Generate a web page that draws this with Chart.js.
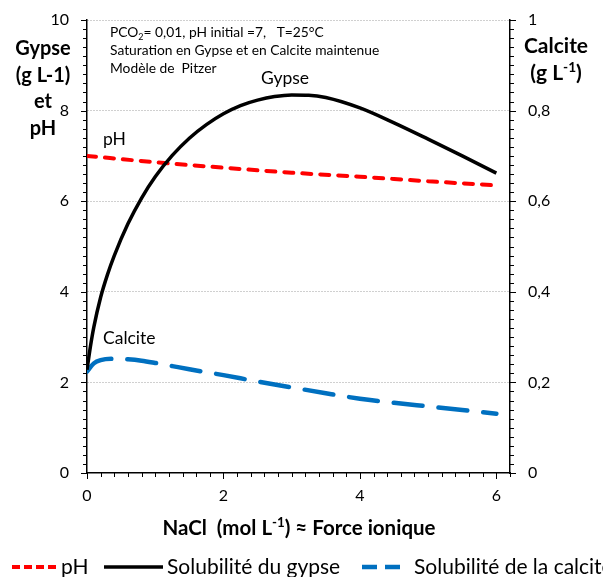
<!DOCTYPE html>
<html>
<head>
<meta charset="utf-8">
<script src="https://cdn.jsdelivr.net/npm/chart.js@4.4.1/dist/chart.umd.min.js"></script>
<style>
    html, body { margin: 0; padding: 0; background: #fff; overflow: hidden; }
</style>
</head>
<body>
<canvas id="chart" width="603" height="577"></canvas>
<script>
// Data (NaCl in mol/L)
const phX = [0, 1, 2, 3, 4, 5, 6];
const phY = [7.0, 6.86, 6.74, 6.63, 6.54, 6.44, 6.35];

const gypseX = [0, 0.05, 0.1, 0.2, 0.3, 0.4, 0.6, 0.8, 1.0, 1.25, 1.5, 1.75, 2.0, 2.25, 2.5, 2.75, 3.0, 3.25, 3.5, 4.0, 4.5, 5.0, 5.5, 6.0];
const gypseY = [2.28, 2.79, 3.22, 3.88, 4.38, 4.8, 5.5, 6.07, 6.54, 7.01, 7.39, 7.69, 7.93, 8.11, 8.23, 8.31, 8.345, 8.34, 8.29, 8.06, 7.73, 7.37, 7.0, 6.62];

const calciteX = [0, 0.1, 0.2, 0.4, 0.6, 0.8, 1.0, 1.25, 1.5, 2.0, 2.5, 3.0, 3.5, 4.0, 4.5, 5.0, 5.5, 6.0];
const calciteY = [0.224, 0.242, 0.249, 0.252, 0.251, 0.248, 0.243, 0.236, 0.229, 0.216, 0.202, 0.189, 0.176, 0.164, 0.155, 0.147, 0.139, 0.131];

// Labelled ticks (the rest are minor ticks)
const xLabels = [0, 2, 4, 6];
const yLabels = [0, 2, 4, 6, 8, 10];
const y1Labels = [0, 0.2, 0.4, 0.6, 0.8, 1];

const FONT = 'Lato';

function toXY(xs, ys) {
    return xs.map((x, i) => ({ x: x, y: ys[i] }));
}

function findTick(v, list) {
    return list.find(t => Math.abs(t - v) < 1e-6);
}

function frNum(v) {
    return String(v).replace('.', ',');
}

// text with sub/superscript pieces
function rich(c, parts, x, y, weight, size, align) {
    const fontOf = lvl => `${weight} ${lvl ? size * 0.65 : size}px ${FONT}`;
    let total = 0;
    parts.forEach(([t, l]) => { c.font = fontOf(l); total += c.measureText(t).width; });
    let cx = align === 'center' ? x - total / 2 : x;
    c.textAlign = 'left';
    parts.forEach(([t, l]) => {
        c.font = fontOf(l);
        const dy = l > 0 ? -size * 0.38 : (l < 0 ? size * 0.2 : 0);
        c.fillText(t, cx, y + dy);
        cx += c.measureText(t).width;
    });
}

function seg(c, x1, y1, x2, y2) {
    c.beginPath();
    c.moveTo(x1, y1);
    c.lineTo(x2, y2);
    c.stroke();
}

// fixed axis boxes: keep Chart.js from adding label padding above the plot
function fixBox(width) {
    return s => {
        s.width = width;
        s.paddingTop = 0;
        s.paddingBottom = 0;
    };
}

// legend slots: sample line start/end and text start
const legendSlots = [
    { x0: 12, x1: 57, tx: 61 },
    { x0: 104, x1: 163, tx: 167 },
    { x0: 362, x1: 402, tx: 414 }
];

// tick marks (major longer than minor), drawn from the scales' own ticks
const tickPlugin = {
    id: 'tickMarks',
    afterDraw(chart) {
        const c = chart.ctx;
        const a = chart.chartArea;
        const { x, y, y1 } = chart.scales;
        c.save();
        c.strokeStyle = '#000';
        c.lineWidth = 1;
        x.ticks.forEach(t => {
            const px = Math.round(x.getPixelForValue(t.value)) + 0.5;
            const len = findTick(t.value, xLabels) === undefined ? 4 : 6;
            seg(c, px, a.bottom, px, a.bottom + len);
        });
        y.ticks.forEach(t => {
            const py = Math.round(y.getPixelForValue(t.value)) + 0.5;
            const len = findTick(t.value, yLabels) === undefined ? 4 : 6;
            seg(c, a.left - len, py, a.left, py);
        });
        y1.ticks.forEach(t => {
            const py = Math.round(y1.getPixelForValue(t.value)) + 0.5;
            const len = findTick(t.value, y1Labels) === undefined ? 4 : 6;
            seg(c, a.right, py, a.right + len, py);
        });
        c.restore();
    }
};

const textPlugin = {
    id: 'texts',
    afterDraw(chart) {
        const c = chart.ctx;
        c.save();
        c.fillStyle = '#000';
        c.textBaseline = 'alphabetic';

        // left axis title
        c.font = `bold 20px ${FONT}`;
        c.textAlign = 'center';
        [['Gypse', 55], ['(g L-1)', 82], ['et', 108], ['pH', 135]].forEach(([t, y]) => c.fillText(t, 43, y));

        // right axis title
        c.font = `bold 21px ${FONT}`;
        c.fillText('Calcite', 556, 53);
        rich(c, [['(g L', 0], ['-1', 1], [')', 0]], 556, 80, 'bold', 21, 'center');

        // x axis title
        rich(c, [['NaCl  (mol L', 0], ['-1', 1], [') \u2248 Force ionique', 0]], 299, 535, 'bold', 20.5, 'center');

        // notes
        rich(c, [['PCO', 0], ['2', -1], ['= 0,01, pH initial =7,   T=25\u00B0C', 0]], 110, 37, 'normal', 13.8, 'left');
        c.font = `13.8px ${FONT}`;
        c.textAlign = 'left';
        c.fillText('Saturation en Gypse et en Calcite maintenue', 110, 55);
        c.fillText('Modèle de  Pitzer', 110, 73);

        // curve labels
        c.font = `17.5px ${FONT}`;
        c.fillText('Gypse', 261, 84);
        c.fillText('pH', 103, 145);
        c.fillText('Calcite', 103, 344);

        // legend
        c.font = `21px ${FONT}`;
        chart.data.datasets.forEach((ds, i) => {
            const s = legendSlots[i];
            c.strokeStyle = ds.borderColor;
            c.lineWidth = ds.borderWidth;
            c.lineCap = 'butt';
            c.setLineDash(ds.legendDash);
            seg(c, s.x0, 567, s.x1, 567);
            c.setLineDash([]);
            c.fillText(ds.label, s.tx, 574);
        });
        c.restore();
    }
};

const tickFont = { family: FONT, size: 16 };

new Chart(document.getElementById('chart'), {
    type: 'line',
    data: {
        datasets: [
            {
                label: 'pH',
                data: toXY(phX, phY),
                yAxisID: 'y',
                borderColor: '#FF0000',
                backgroundColor: '#FF0000',
                borderWidth: 4,
                borderDash: [9, 9],
                borderCapStyle: 'round',
                legendDash: [8, 4],
                order: 1
            },
            {
                label: 'Solubilité du gypse',
                data: toXY(gypseX, gypseY),
                yAxisID: 'y',
                borderColor: '#000000',
                backgroundColor: '#000000',
                borderWidth: 3.5,
                legendDash: [],
                order: 0
            },
            {
                label: 'Solubilité de la calcite',
                data: toXY(calciteX, calciteY),
                yAxisID: 'y1',
                borderColor: '#0070C0',
                backgroundColor: '#0070C0',
                borderWidth: 4.5,
                borderDash: [29, 16],
                borderCapStyle: 'round',
                legendDash: [15, 8],
                order: 2
            }
        ]
    },
    options: {
        responsive: false,
        animation: false,
        devicePixelRatio: 1,
        layout: { padding: { top: 20, left: 0, right: 0, bottom: 0 } },
        elements: {
            point: { radius: 0 },
            line: { cubicInterpolationMode: 'monotone', fill: false }
        },
        plugins: {
            tooltip: { enabled: false },
            legend: { display: false }
        },
        scales: {
            x: {
                type: 'linear',
                min: 0,
                max: 6.2,
                afterFit: s => { s.height = 104; s.paddingLeft = 0; s.paddingRight = 0; },
                ticks: {
                    stepSize: 0.2,
                    autoSkip: false,
                    maxRotation: 0,
                    padding: 13,
                    color: '#000',
                    font: tickFont,
                    callback: v => { const t = findTick(v, xLabels); return t === undefined ? '' : String(t); }
                },
                grid: { drawOnChartArea: false, drawTicks: false },
                border: { color: '#000', width: 1.5 }
            },
            y: {
                position: 'left',
                min: 0,
                max: 10,
                afterFit: fixBox(87),
                ticks: {
                    stepSize: 0.2,
                    autoSkip: false,
                    padding: 18,
                    color: '#000',
                    font: tickFont,
                    callback: v => { const t = findTick(v, yLabels); return t === undefined ? '' : String(t); }
                },
                grid: {
                    drawTicks: false,
                    color: ctx => {
                        const t = findTick(ctx.tick.value, yLabels);
                        return (t === undefined || t === 0) ? 'transparent' : '#A0A0A0';
                    }
                },
                border: { color: '#000', width: 1.5, dash: [1, 2] }
            },
            y1: {
                position: 'right',
                min: 0,
                max: 1,
                afterFit: fixBox(93),
                ticks: {
                    stepSize: 0.02,
                    autoSkip: false,
                    padding: 18,
                    color: '#000',
                    font: tickFont,
                    callback: v => { const t = findTick(v, y1Labels); return t === undefined ? '' : frNum(t); }
                },
                grid: { drawOnChartArea: false, drawTicks: false },
                border: { color: '#000', width: 1.5 }
            }
        }
    },
    plugins: [tickPlugin, textPlugin]
});
</script>
</body>
</html>
